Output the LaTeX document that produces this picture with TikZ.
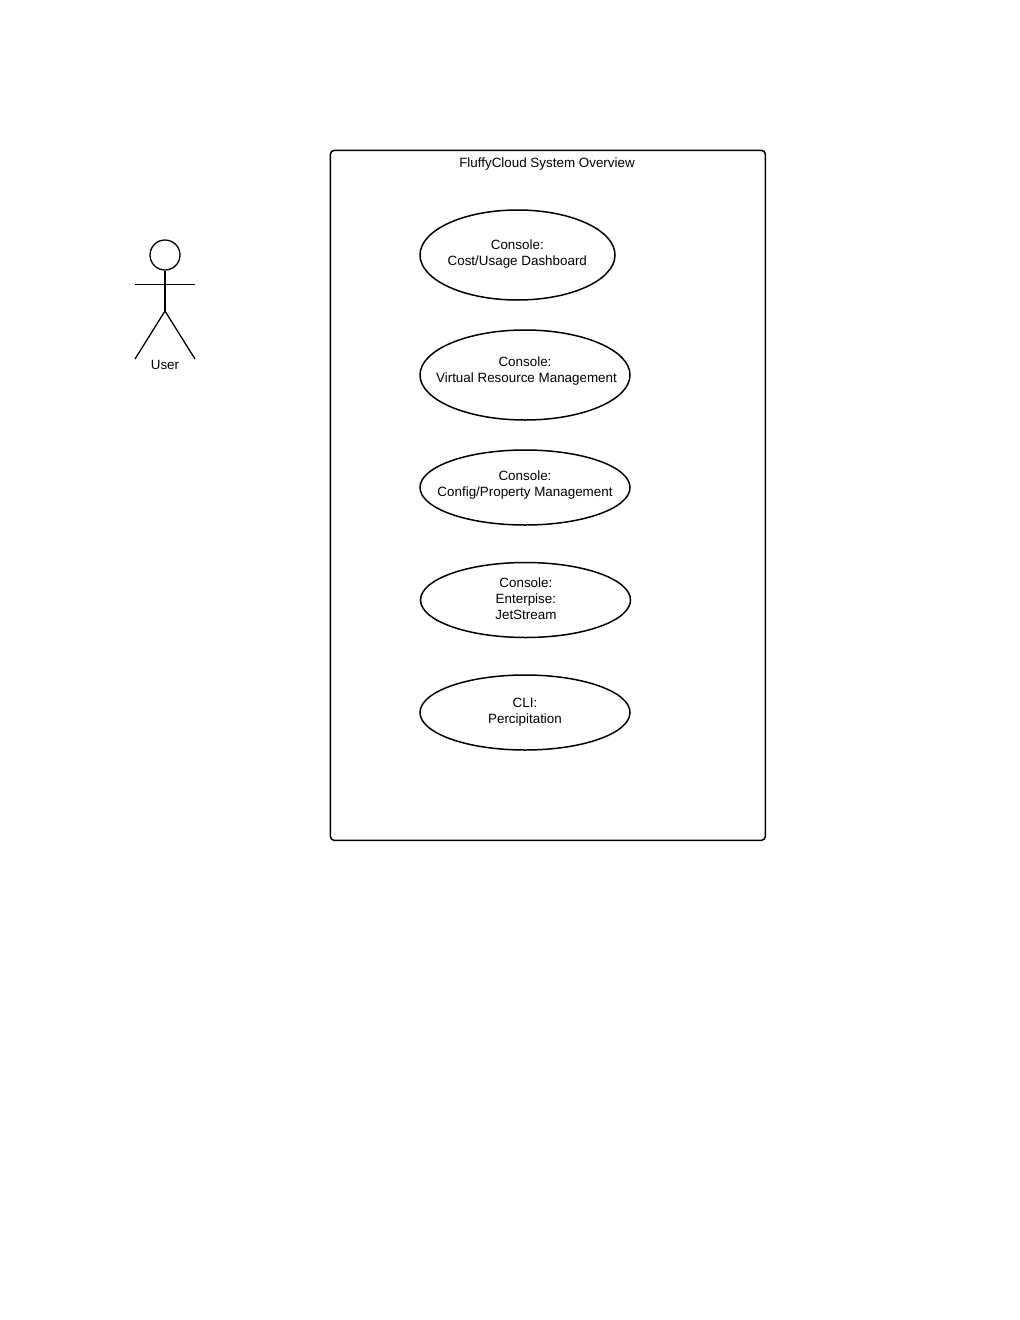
\documentclass[tikz,border=0pt]{standalone}
\usepackage{fontspec}
\setmainfont{Liberation Sans}
\usetikzlibrary{shapes.geometric}
\tikzset{
    usecase/.style={draw, ellipse, line width=1.5pt, inner sep=0pt},
    actorline/.style={line width=1.3pt},
    label/.style={font=\fontsize{13.4pt}{16pt}\selectfont, inner sep=0pt, align=center}
}
\begin{document}
\begin{tikzpicture}[x=1pt, y=-1pt]
    % Page size
    \useasboundingbox (0,0) rectangle (1020,1320);

    % System box
    \node (system) [draw, line width=1.5pt, rounded corners=4pt, minimum width=435pt, minimum height=690pt, anchor=north west] at (329.6,149.6) {};
    \node (title) [label] at (547,164.5) {FluffyCloud System Overview};

    % Use cases
    \node (dashboard) [usecase, minimum width=195pt, minimum height=90pt] at (517.5,255) {};
    \node (dashboardtext) [label] at (517.3,253.8) {Console:\\Cost/Usage Dashboard};

    \node (resource) [usecase, minimum width=210pt, minimum height=90pt] at (525,375) {};
    \node (resourcetext) [label] at (525,371.5) {Console:\\\hspace*{3pt}Virtual Resource Management};

    \node (config) [usecase, minimum width=210pt, minimum height=75pt] at (525,487.5) {};
    \node (configtext) [label] at (525,484.7) {Console:\\Config/Property Management};

    \node (jetstream) [usecase, minimum width=210pt, minimum height=75pt] at (525.5,600) {};
    \node (jetstreamtext) [label] at (525.9,599.2) {Console:\\Enterpise:\\JetStream};

    \node (cli) [usecase, minimum width=210pt, minimum height=75pt] at (525,712.5) {};
    \node (clitext) [label] at (525,712.3) {CLI:\\Percipitation};

    % Actor
    \node (head) [draw, circle, actorline, minimum size=30pt, inner sep=0pt] at (165,255) {};
    \coordinate (hip) at (165,311);
    \coordinate (armL) at (135,284.5);
    \coordinate (armR) at (195,284.5);
    \coordinate (footL) at (135,359);
    \coordinate (footR) at (195,359);
    \draw[actorline] (head.south) -- (hip);
    \draw[actorline] (armL) -- (armR);
    \draw[actorline] (footL) -- (hip) -- (footR);
    \node (user) [label] at (165,364.5) {User};
\end{tikzpicture}
\end{document}
